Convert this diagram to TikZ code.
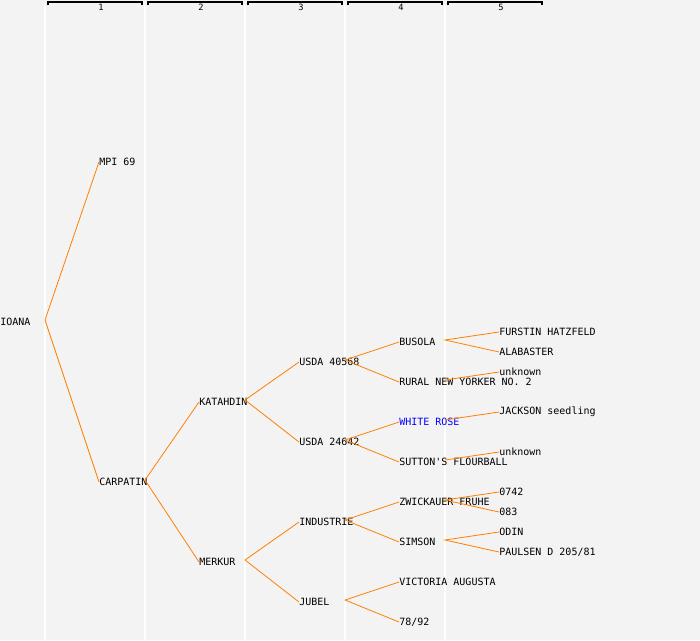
\documentclass[tikz,border=0pt]{standalone}
\usepackage{fontspec}
\setmonofont{DejaVu Sans Mono}
\usetikzlibrary{positioning}
\definecolor{pagebg}{RGB}{243,243,243}
\definecolor{linkorange}{RGB}{255,128,0}
\definecolor{namblue}{RGB}{0,0,255}
\tikzset{
    cultivar/.style={anchor=west, inner sep=0pt, font=\ttfamily\fontsize{7.5}{8}\selectfont},
    link/.style={draw=linkorange, line width=0.6pt},
    divider/.style={draw=white, line width=0.9pt},
    bracket/.style={draw=black, line width=0.8pt}
}

\begin{document}
\begin{tikzpicture}[x=0.75pt, y=-0.75pt]
        \useasboundingbox[fill=pagebg] (0,0) rectangle (700,640);

        % Separadores de generaciones
        \foreach \gx in {45,145,245,345,445}
            \draw[divider] (\gx,5) -- (\gx,640);

        % Cabecera
        \foreach \gen in {1,...,5} {
            \draw[bracket] ({100*\gen-52},5) -- ({100*\gen-52},2) -- ({100*\gen+42},2) -- ({100*\gen+42},5);
            \node[font=\ttfamily\fontsize{6.5}{7}\selectfont, inner sep=0pt] (head\gen) at ({100*\gen+1},7) {\gen};
        }

        % Generacion 0
        \node[cultivar] (ioana) at (0,322) {IOANA};

        % Generacion 1
        \node[cultivar] (mpi) at (99,162) {MPI 69};
        \node[cultivar] (carpatin) at (99,482) {CARPATIN};

        % Generacion 2
        \node[cultivar] (katahdin) at (199,402) {KATAHDIN};
        \node[cultivar] (merkur) at (199,562) {MERKUR};

        % Generacion 3
        \node[cultivar] (usdaA) at (299,362) {USDA 40568};
        \node[cultivar] (usdaB) at (299,442) {USDA 24642};
        \node[cultivar] (industrie) at (299,522) {INDUSTRIE};
        \node[cultivar] (jubel) at (299,602) {JUBEL};

        % Generacion 4
        \node[cultivar] (busola) at (399,342) {BUSOLA};
        \node[cultivar] (rural) at (399,382) {RURAL NEW YORKER NO. 2};
        \node[cultivar, text=namblue] (whiterose) at (399,422) {WHITE ROSE};
        \node[cultivar] (sutton) at (399,462) {SUTTON'S FLOURBALL};
        \node[cultivar] (zwickauer) at (399,502) {ZWICKAUER FRUHE};
        \node[cultivar] (simson) at (399,542) {SIMSON};
        \node[cultivar] (victoria) at (399,582) {VICTORIA AUGUSTA};
        \node[cultivar] (sieben) at (399,622) {78/92};

        % Generacion 5
        \node[cultivar] (furstin) at (499,332) {FURSTIN HATZFELD};
        \node[cultivar] (alabaster) at (499,352) {ALABASTER};
        \node[cultivar] (unknownA) at (499,372) {unknown};
        \node[cultivar] (jackson) at (499,412) {JACKSON seedling};
        \node[cultivar] (unknownB) at (499,452) {unknown};
        \node[cultivar] (nullsieben) at (499,492) {0742};
        \node[cultivar] (nullacht) at (499,512) {083};
        \node[cultivar] (odin) at (499,532) {ODIN};
        \node[cultivar] (paulsen) at (499,552) {PAULSEN D 205/81};

        % Puntos de salida
        \coordinate (ioana-out) at (45,320);
        \coordinate (carpatin-out) at (145,480);
        \coordinate (katahdin-out) at (245,400);
        \coordinate (merkur-out) at (245,560);
        \coordinate (usdaA-out) at (345,360);
        \coordinate (usdaB-out) at (345,440);
        \coordinate (industrie-out) at (345,520);
        \coordinate (jubel-out) at (345,600);
        \coordinate (busola-out) at (445,340);
        \coordinate (rural-out) at (445,380);
        \coordinate (whiterose-out) at (445,420);
        \coordinate (sutton-out) at (445,460);
        \coordinate (zwickauer-out) at (445,500);
        \coordinate (simson-out) at (445,540);

        % Conexiones
        \draw[link] (mpi.west) -- (ioana-out) -- (carpatin.west);
        \draw[link] (katahdin.west) -- (carpatin-out) -- (merkur.west);
        \draw[link] (usdaA.west) -- (katahdin-out) -- (usdaB.west);
        \draw[link] (industrie.west) -- (merkur-out) -- (jubel.west);
        \draw[link] (busola.west) -- (usdaA-out) -- (rural.west);
        \draw[link] (whiterose.west) -- (usdaB-out) -- (sutton.west);
        \draw[link] (zwickauer.west) -- (industrie-out) -- (simson.west);
        \draw[link] (victoria.west) -- (jubel-out) -- (sieben.west);
        \draw[link] (furstin.west) -- (busola-out) -- (alabaster.west);
        \draw[link] (rural-out) -- (unknownA.west);
        \draw[link] (whiterose-out) -- (jackson.west);
        \draw[link] (sutton-out) -- (unknownB.west);
        \draw[link] (nullsieben.west) -- (zwickauer-out) -- (nullacht.west);
        \draw[link] (odin.west) -- (simson-out) -- (paulsen.west);
    \end{tikzpicture}
\end{document}
